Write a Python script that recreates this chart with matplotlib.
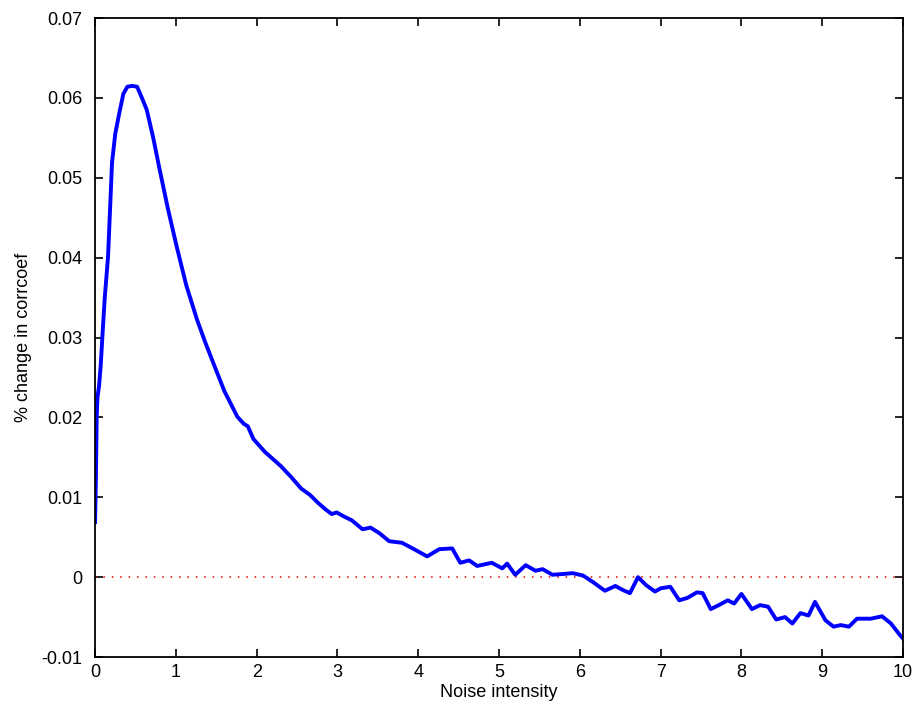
import matplotlib
matplotlib.use("Agg")
import matplotlib.pyplot as plt

plt.rcParams['font.family'] = ['Liberation Sans', 'DejaVu Sans']

# Noise intensity vs. percent change in correlation coefficient
noise = [0.0, 0.01, 0.02, 0.03, 0.05, 0.07, 0.09, 0.12, 0.16, 0.18, 0.21, 0.25,
         0.30, 0.35, 0.40, 0.46, 0.52, 0.58, 0.64, 0.72, 0.80, 0.90, 1.01,
         1.13, 1.26, 1.36, 1.46, 1.60, 1.76, 1.84, 1.89, 1.96, 2.10, 2.30,
         2.43, 2.55, 2.66, 2.76, 2.85, 2.93, 2.99, 3.08, 3.18, 3.31, 3.41,
         3.52, 3.64, 3.80, 3.93, 4.02, 4.11, 4.26, 4.42, 4.52, 4.63, 4.73,
         4.82, 4.91, 5.04, 5.10, 5.20, 5.33, 5.45, 5.54, 5.66, 5.80, 5.91,
         6.04, 6.16, 6.31, 6.44, 6.53, 6.62, 6.72, 6.82, 6.93, 7.00, 7.12,
         7.23, 7.33, 7.45, 7.52, 7.62, 7.72, 7.83, 7.91, 8.00, 8.13, 8.23,
         8.33, 8.43, 8.54, 8.63, 8.73, 8.83, 8.91, 9.04, 9.14, 9.23, 9.33,
         9.43, 9.60, 9.74, 9.85, 9.95, 10.0]
change = [0.0069, 0.0120, 0.0200, 0.0225, 0.0240, 0.0265, 0.0300, 0.0350, 0.0400,
          0.0447, 0.0519, 0.0555, 0.0581, 0.0605, 0.0614, 0.0615, 0.0614, 0.0600,
          0.0585, 0.0550, 0.0510, 0.0462, 0.0414, 0.0365, 0.0323, 0.0295, 0.0269,
          0.0233, 0.0201, 0.0192, 0.0189, 0.0173, 0.0157, 0.0139, 0.0125, 0.0111,
          0.0103, 0.0093, 0.0085, 0.0079, 0.0081, 0.0076, 0.0071, 0.0060, 0.0062,
          0.0055, 0.0045, 0.0043, 0.0036, 0.0031, 0.0026, 0.0035, 0.0036, 0.0018,
          0.0021, 0.0014, 0.0016, 0.0018, 0.0011, 0.0017, 0.0003, 0.0015, 0.0008,
          0.0010, 0.0003, 0.0004, 0.0005, 0.0002, -0.0006, -0.0017, -0.0011,
          -0.0016, -0.0020, 0.0000, -0.0010, -0.0018, -0.0014, -0.0012, -0.0029,
          -0.0026, -0.0019, -0.0020, -0.0040, -0.0035, -0.0029, -0.0033, -0.0021,
          -0.0040, -0.0035, -0.0037, -0.0053, -0.0050, -0.0058, -0.0045, -0.0048,
          -0.0031, -0.0054, -0.0062, -0.0060, -0.0062, -0.0052, -0.0052, -0.0049,
          -0.0058, -0.0071, -0.0077]

x_ticks = list(range(0, 11))
y_ticks = [-0.01, 0, 0.01, 0.02, 0.03, 0.04, 0.05, 0.06, 0.07]
y_tick_labels = ['-0.01', '0', '0.01', '0.02', '0.03', '0.04', '0.05', '0.06', '0.07']

fig = plt.figure(figsize=(9.14, 7.09), dpi=100)
ax = fig.add_axes([0.104, 0.0733, 0.884, 0.9013])

ax.plot([0, 10], [0, 0], color='#e00000', linestyle=(0, (1, 4.5)), linewidth=1.1)
ax.plot(noise, change, color='#0000ff', linewidth=2.8, solid_joinstyle='round')

ax.set_xlim(0, 10)
ax.set_ylim(-0.01, 0.07)
ax.set_xticks(x_ticks)
ax.set_yticks(y_ticks)
ax.set_yticklabels(y_tick_labels)
ax.tick_params(direction='in', length=6, width=1.2, top=True, right=True,
               labelsize=13, colors='black')
ax.tick_params(axis='x', pad=5)
ax.tick_params(axis='y', pad=9)
for sp in ax.spines.values():
    sp.set_linewidth(1.3)

ax.set_xlabel('Noise intensity', fontsize=13, labelpad=2)
ax.set_ylabel('% change in corrcoef', fontsize=13, labelpad=7)

fig.savefig('out.png', dpi=100)
